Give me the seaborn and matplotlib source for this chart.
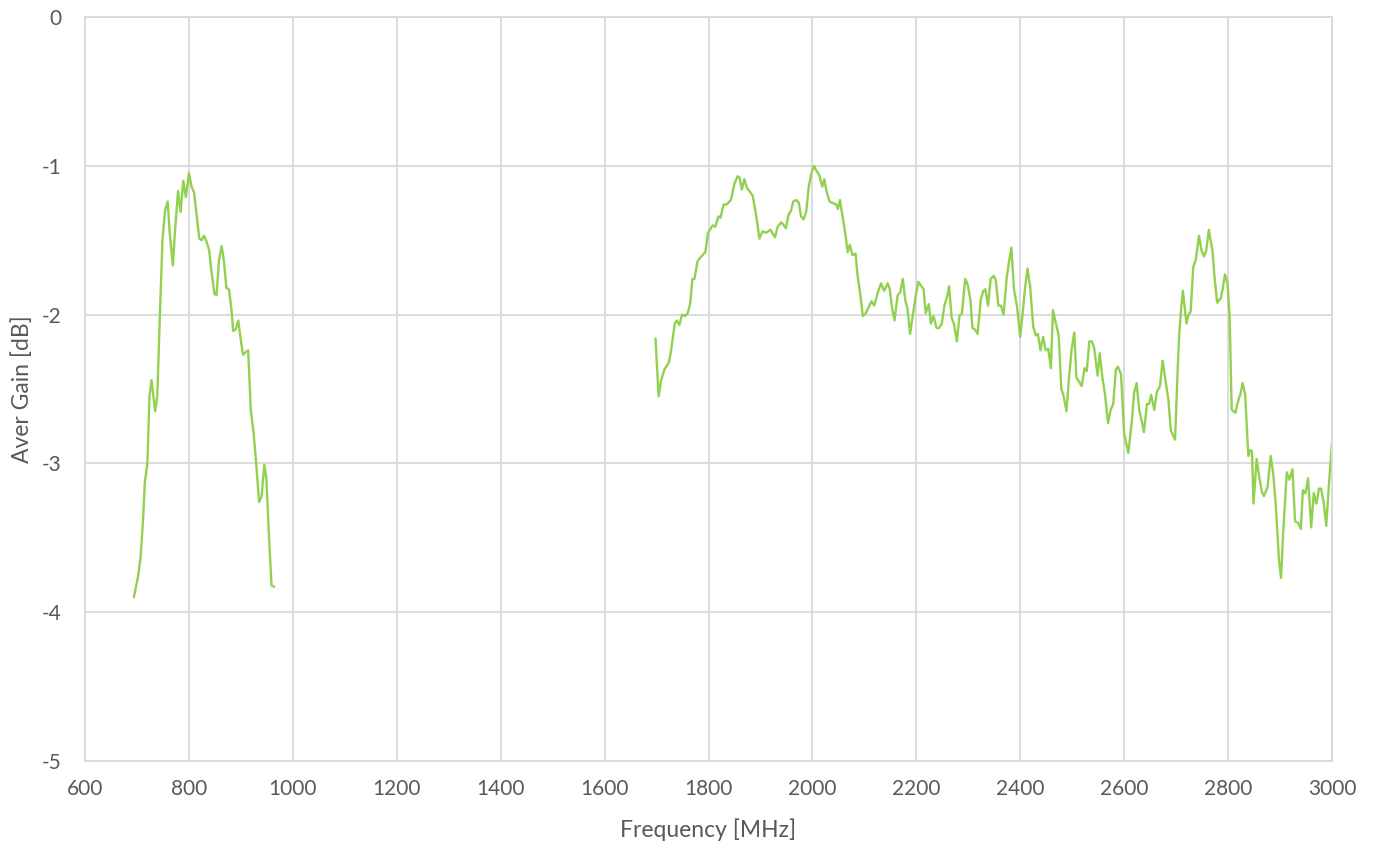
import matplotlib
matplotlib.use("Agg")
import matplotlib.pyplot as plt
import seaborn as sns
import pandas as pd

# Low band (approx. 700-965 MHz)
freq_low = [694, 702, 707, 712, 715, 720, 724, 728, 735, 739, 744, 749, 754, 759, 763,
            769, 773, 779, 784, 789, 794, 800, 805, 810, 815, 820, 824, 829, 834, 839,
            843, 849, 853, 858, 863, 867, 872, 877, 882, 885, 890, 895, 899, 904, 910,
            914, 919, 924, 929, 935, 940, 945, 949, 954, 959, 964]
gain_low = [-3.90, -3.76, -3.63, -3.36, -3.13, -3.00, -2.55, -2.44, -2.65, -2.55, -2.01,
            -1.50, -1.30, -1.24, -1.45, -1.67, -1.45, -1.17, -1.31, -1.10, -1.21, -1.05,
            -1.14, -1.18, -1.34, -1.49, -1.50, -1.47, -1.51, -1.57, -1.70, -1.86, -1.87,
            -1.63, -1.54, -1.63, -1.82, -1.83, -1.97, -2.11, -2.10, -2.04, -2.15, -2.27,
            -2.25, -2.24, -2.64, -2.78, -2.98, -3.26, -3.22, -3.01, -3.10, -3.49, -3.82,
            -3.83]

# High band (approx. 1700-3000 MHz)
freq_high = [1698, 1704, 1709, 1715, 1724, 1728, 1735, 1739, 1744, 1749, 1755, 1760, 1765,
             1769, 1773, 1779, 1786, 1794, 1799, 1803, 1808, 1813, 1819, 1823, 1829, 1835,
             1843, 1850, 1856, 1860, 1864, 1869, 1874, 1879, 1885, 1892, 1898, 1904, 1911,
             1919, 1928, 1933, 1940, 1945, 1949, 1954, 1959, 1963, 1969, 1974, 1978, 1983,
             1988, 1993, 1998, 2003, 2007, 2013, 2019, 2023, 2027, 2033, 2039, 2046, 2049,
             2053, 2058, 2063, 2068, 2072, 2077, 2083, 2087, 2092, 2097, 2103, 2108, 2114,
             2119, 2126, 2132, 2138, 2145, 2149, 2153, 2158, 2164, 2169, 2174, 2179, 2183,
             2188, 2194, 2199, 2204, 2208, 2214, 2218, 2224, 2228, 2233, 2239, 2244, 2249,
             2254, 2260, 2263, 2268, 2273, 2278, 2283, 2288, 2294, 2299, 2304, 2308, 2313,
             2318, 2324, 2329, 2333, 2338, 2343, 2349, 2353, 2358, 2363, 2368, 2374, 2379,
             2383, 2388, 2394, 2400, 2405, 2409, 2414, 2419, 2425, 2430, 2434, 2439, 2444,
             2449, 2454, 2459, 2463, 2468, 2474, 2479, 2483, 2489, 2494, 2499, 2504, 2508,
             2513, 2518, 2524, 2528, 2533, 2538, 2542, 2549, 2553, 2558, 2563, 2569, 2574,
             2579, 2584, 2588, 2594, 2600, 2608, 2615, 2619, 2624, 2629, 2634, 2638, 2644,
             2648, 2652, 2658, 2663, 2669, 2674, 2680, 2685, 2690, 2698, 2703, 2706, 2710,
             2713, 2720, 2724, 2728, 2733, 2738, 2744, 2749, 2754, 2758, 2763, 2770, 2774,
             2779, 2786, 2790, 2794, 2799, 2803, 2807, 2814, 2818, 2824, 2828, 2833, 2839,
             2843, 2846, 2849, 2855, 2860, 2865, 2869, 2876, 2882, 2887, 2892, 2898, 2902,
             2906, 2913, 2918, 2924, 2929, 2935, 2940, 2944, 2949, 2954, 2960, 2965, 2970,
             2975, 2979, 2984, 2989, 2994, 3000]
gain_high = [-2.16, -2.55, -2.44, -2.37, -2.32, -2.24, -2.06, -2.04, -2.07, -2.00, -2.01,
             -1.99, -1.92, -1.76, -1.76, -1.64, -1.61, -1.58, -1.45, -1.43, -1.40, -1.41,
             -1.34, -1.35, -1.26, -1.26, -1.23, -1.12, -1.07, -1.08, -1.16, -1.09, -1.15,
             -1.17, -1.20, -1.34, -1.49, -1.44, -1.45, -1.43, -1.48, -1.41, -1.38, -1.40,
             -1.42, -1.33, -1.30, -1.24, -1.23, -1.25, -1.34, -1.36, -1.31, -1.14, -1.05,
             -1.00, -1.03, -1.06, -1.14, -1.09, -1.17, -1.24, -1.25, -1.26, -1.29, -1.23,
             -1.34, -1.45, -1.58, -1.53, -1.60, -1.59, -1.74, -1.86, -2.01, -1.99, -1.95,
             -1.91, -1.94, -1.85, -1.79, -1.84, -1.79, -1.83, -1.95, -2.04, -1.87, -1.85,
             -1.76, -1.91, -1.96, -2.13, -1.99, -1.87, -1.78, -1.80, -1.83, -1.99, -1.93,
             -2.06, -2.01, -2.09, -2.09, -2.06, -1.94, -1.87, -1.81, -2.02, -2.07, -2.18,
             -2.01, -1.99, -1.76, -1.80, -1.90, -2.09, -2.10, -2.13, -1.90, -1.84, -1.83,
             -1.94, -1.76, -1.74, -1.77, -1.94, -1.94, -2.00, -1.75, -1.63, -1.55, -1.83,
             -1.95, -2.15, -1.98, -1.83, -1.69, -1.81, -2.08, -2.14, -2.13, -2.24, -2.15,
             -2.24, -2.23, -2.36, -1.97, -2.05, -2.14, -2.50, -2.54, -2.65, -2.42, -2.23,
             -2.12, -2.42, -2.45, -2.48, -2.36, -2.38, -2.18, -2.18, -2.22, -2.41, -2.26,
             -2.42, -2.53, -2.73, -2.64, -2.60, -2.37, -2.35, -2.40, -2.80, -2.93, -2.71,
             -2.53, -2.46, -2.64, -2.72, -2.79, -2.60, -2.60, -2.54, -2.64, -2.52, -2.48,
             -2.31, -2.45, -2.57, -2.78, -2.84, -2.37, -2.13, -1.95, -1.84, -2.06, -2.00,
             -1.98, -1.68, -1.63, -1.47, -1.57, -1.61, -1.57, -1.43, -1.57, -1.75, -1.92,
             -1.89, -1.82, -1.73, -1.79, -2.01, -2.64, -2.66, -2.60, -2.53, -2.46, -2.54,
             -2.95, -2.91, -2.92, -3.27, -2.97, -3.09, -3.19, -3.22, -3.16, -2.95, -3.07,
             -3.29, -3.65, -3.77, -3.47, -3.06, -3.11, -3.04, -3.39, -3.40, -3.44, -3.18,
             -3.20, -3.10, -3.43, -3.20, -3.27, -3.17, -3.17, -3.26, -3.42, -3.15, -2.86]

xticks = [600, 800, 1000, 1200, 1400, 1600, 1800, 2000, 2200, 2400, 2600, 2800, 3000]
yticks = [0, -1, -2, -3, -4, -5]

sns.set_theme(style="white")
plt.rcParams["font.family"] = ["Lato", "DejaVu Sans"]

grid_col = "#D9D9D9"
text_col = "#595959"
line_col = "#92D050"

fig = plt.figure(figsize=(13.76, 8.51), dpi=100)
ax = fig.add_axes([0.0618, 0.1058, 0.9062, 0.8742])

low = pd.DataFrame({"freq": freq_low, "gain": gain_low})
high = pd.DataFrame({"freq": freq_high, "gain": gain_high})
sns.lineplot(data=low, x="freq", y="gain", ax=ax, color=line_col, linewidth=1.7, sort=False)
sns.lineplot(data=high, x="freq", y="gain", ax=ax, color=line_col, linewidth=1.7, sort=False)

ax.set_xlim(600, 3000)
ax.set_ylim(-5, 0)
ax.set_xticks(xticks)
ax.set_yticks(yticks)
ax.set_yticklabels([str(v) for v in yticks])
ax.grid(True, color=grid_col, linewidth=1.3)
ax.set_axisbelow(True)
for s in ax.spines.values():
    s.set_color(grid_col)
    s.set_linewidth(1.3)
ax.tick_params(axis="x", length=0, labelsize=15, labelcolor=text_col, pad=13)
ax.tick_params(axis="y", length=0, labelsize=15, labelcolor=text_col, pad=17)

ax.set_xlabel("Frequency [MHz]", fontsize=16.5, color=text_col, labelpad=14)
ax.set_ylabel("Aver Gain [dB]", fontsize=16.5, color=text_col, labelpad=6)

fig.savefig("out.png", dpi=100)
